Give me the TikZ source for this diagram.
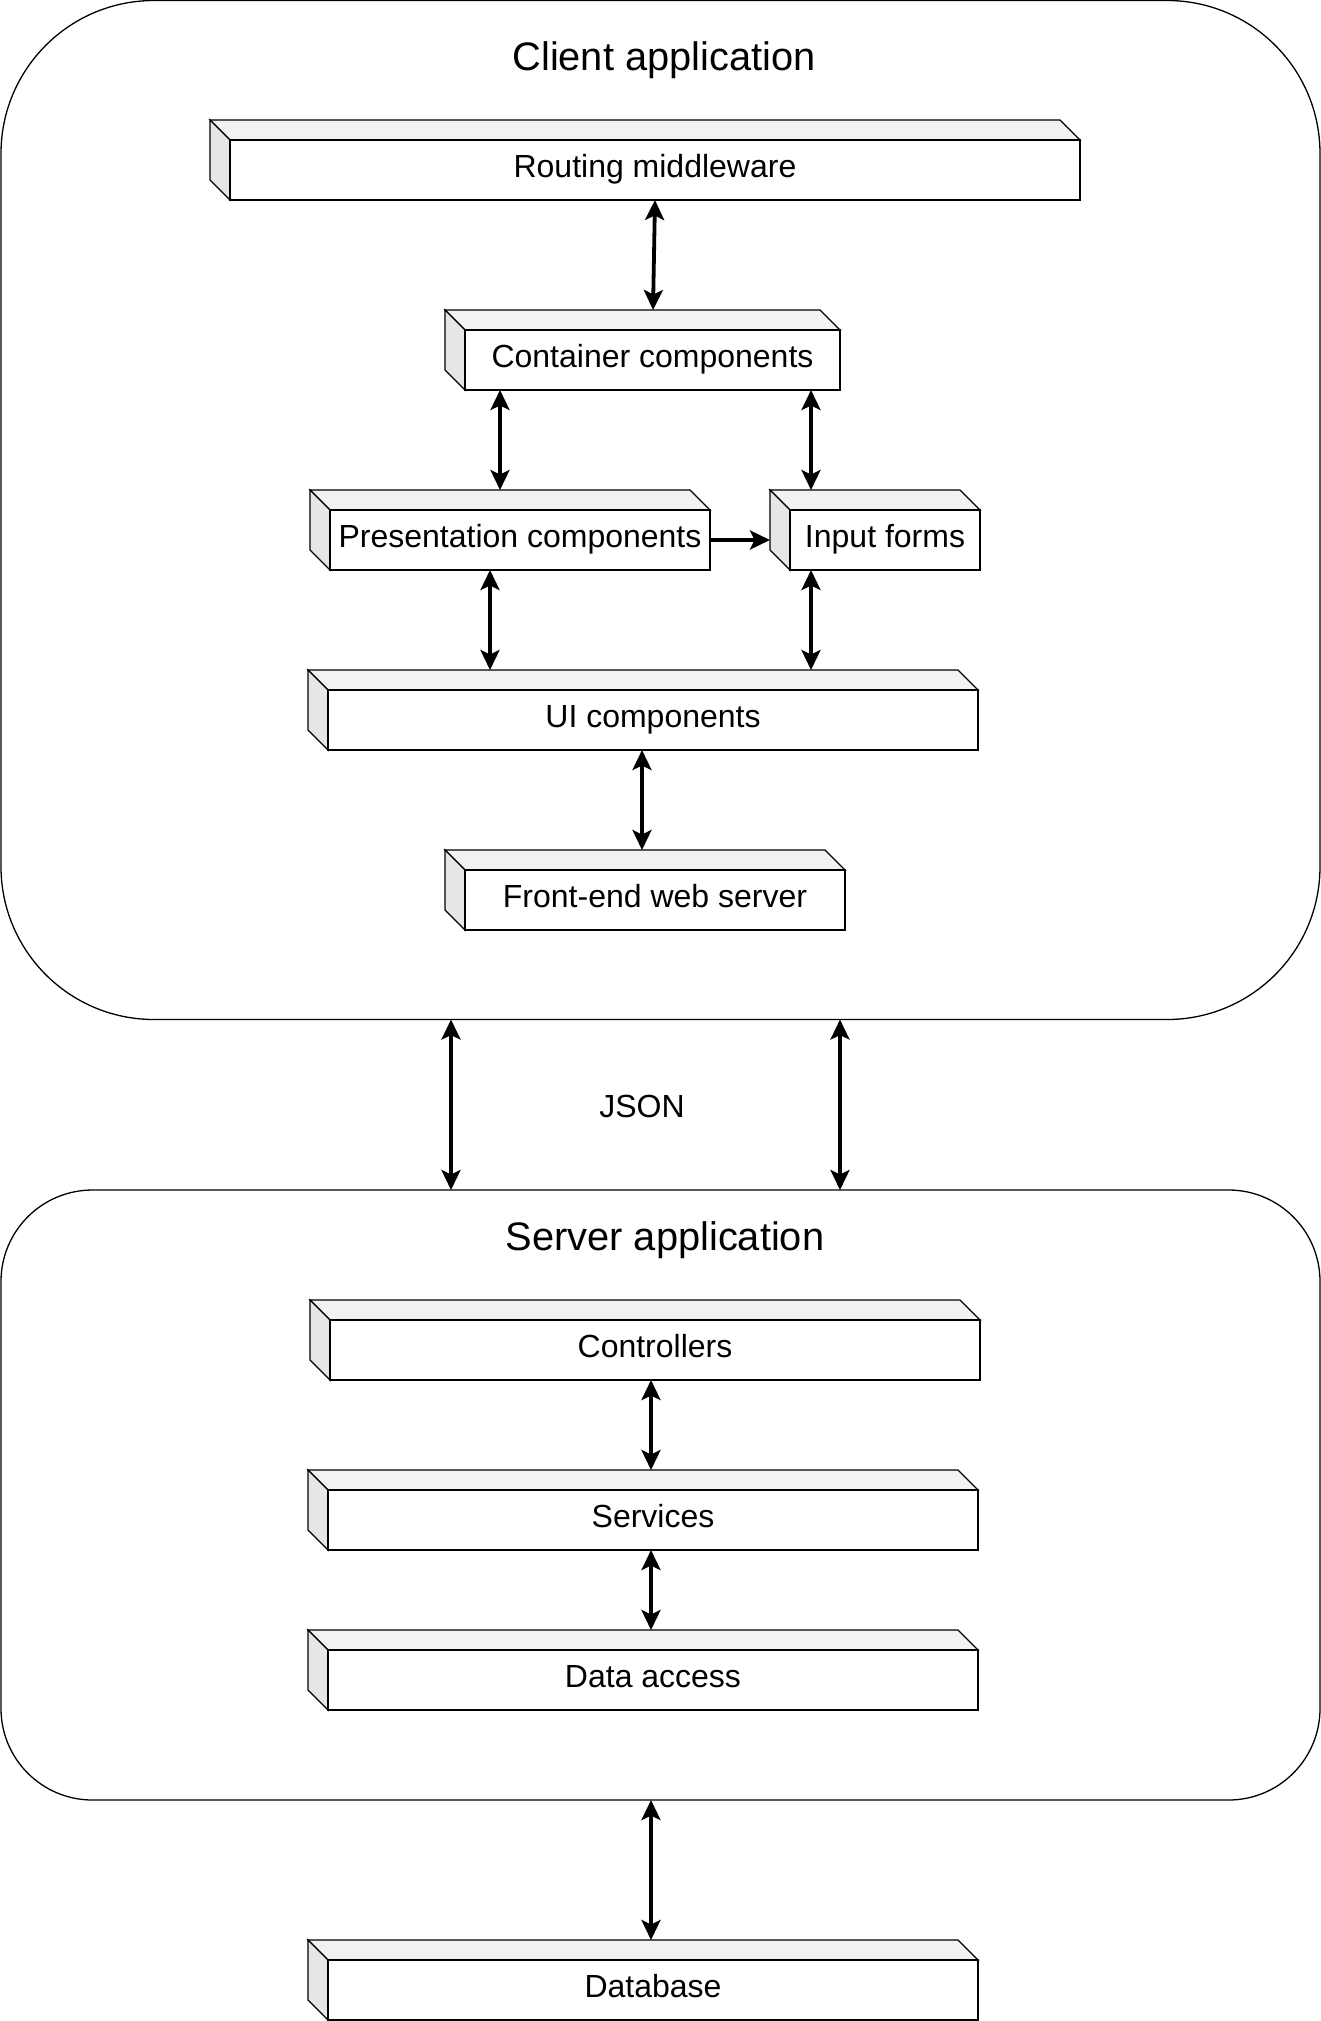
\documentclass[tikz,border=0pt]{standalone}
\usepackage{fontspec}
\setmainfont{Liberation Sans}
\usetikzlibrary{arrows.meta}
\definecolor{topface}{HTML}{F2F2F2}
\definecolor{leftface}{HTML}{E6E6E6}
\tikzset{
  cubeouter/.style={draw=none, inner sep=0pt, outer sep=0pt, rectangle},
  cubeline/.style={draw=black, line width=1.3pt, line join=miter},
  boxtext/.style={anchor=base, inner sep=0pt, font=\fontsize{32}{38}\selectfont},
  titletext/.style={anchor=base, inner sep=0pt, font=\fontsize{39.8}{47}\selectfont},
  appbox/.style={draw=black, line width=1.3pt, fill=white, rectangle, inner sep=0pt, outer sep=0pt},
  biarrow/.style={line width=3.8pt, {Stealth[length=20pt,width=19pt,inset=4.5pt]}-{Stealth[length=20pt,width=19pt,inset=4.5pt]}},
  onearrow/.style={line width=3.8pt, -{Stealth[length=20pt,width=19pt,inset=4.5pt]}}
}
\newcommand\drawcube[6]{%
  \node[cubeouter, minimum width={#4pt-#2pt}, minimum height={#5pt-#3pt}] (#1) at ({(#2+#4)/2},{(#3+#5)/2}) {};
  \draw[cubeline, fill=topface] (#2,#3) -- ({#4-20},#3) -- (#4,{#3+20}) -- ({#2+20},{#3+20}) -- cycle;
  \draw[cubeline, fill=leftface] (#2,#3) -- ({#2+20},{#3+20}) -- ({#2+20},#5) -- (#2,{#5-20}) -- cycle;
  \draw[cubeline, fill=white] ({#2+20},{#3+20}) rectangle (#4,#5);
  \node[boxtext] (#1-label) at ({(#2+20+#4)/2},{(#3+20+#5)/2+7.5}) {#6};
}
\begin{document}
\begin{tikzpicture}[x=1pt,y=-1pt]
\useasboundingbox (0,0) rectangle (1321,2021);
\fill[white] (0,0) rectangle (1321,2021);

% containers
\node[appbox, minimum width=1319pt, minimum height=1019pt, rounded corners=153pt] (client) at (660.5,510) {};
\node[appbox, minimum width=1319pt, minimum height=610pt, rounded corners=91.5pt] (server) at (660.5,1495) {};
\node[titletext] (clienttitle) at (664,70) {Client application};
\node[titletext] (servertitle) at (665,1250) {Server application};

% cubes
\drawcube{routing}{210}{120}{1080}{200}{Routing middleware}
\drawcube{container}{445}{310}{840}{390}{Container components}
\drawcube{pres}{310}{490}{710}{570}{Presentation components}
\drawcube{input}{770}{490}{980}{570}{Input forms}
\drawcube{ui}{308}{670}{978}{750}{UI components}
\drawcube{fe}{445}{850}{845}{930}{Front-end web server}
\drawcube{ctrl}{310}{1300}{980}{1380}{Controllers}
\drawcube{services}{308}{1470}{978}{1550}{Services}
\drawcube{data}{308}{1630}{978}{1710}{Data access}
\drawcube{db}{308}{1940}{978}{2020}{Database}

\node[boxtext] (json) at (642,1117) {JSON};

% column / row helpers
\coordinate (c655) at (655,0);
\coordinate (c653) at (653,0);
\coordinate (c500) at (500,0);
\coordinate (c811) at (811,0);
\coordinate (c490) at (490,0);
\coordinate (c642) at (642,0);
\coordinate (c451) at (451,0);
\coordinate (c840) at (840,0);
\coordinate (c651) at (651,0);
\coordinate (r540) at (0,540);

% connectors
\draw[biarrow] (routing.south -| c655) -- (container.north -| c653);
\draw[biarrow] (container.south -| c500) -- (pres.north -| c500);
\draw[biarrow] (container.south -| c811) -- (input.north -| c811);
\draw[onearrow] (pres.east |- r540) -- (input.west |- r540);
\draw[biarrow] (pres.south -| c490) -- (ui.north -| c490);
\draw[biarrow] (input.south -| c811) -- (ui.north -| c811);
\draw[biarrow] (ui.south -| c642) -- (fe.north -| c642);
\draw[biarrow] (client.south -| c451) -- (server.north -| c451);
\draw[biarrow] (client.south -| c840) -- (server.north -| c840);
\draw[biarrow] (ctrl.south -| c651) -- (services.north -| c651);
\draw[biarrow] (services.south -| c651) -- (data.north -| c651);
\draw[biarrow] (server.south -| c651) -- (db.north -| c651);
\end{tikzpicture}
\end{document}
